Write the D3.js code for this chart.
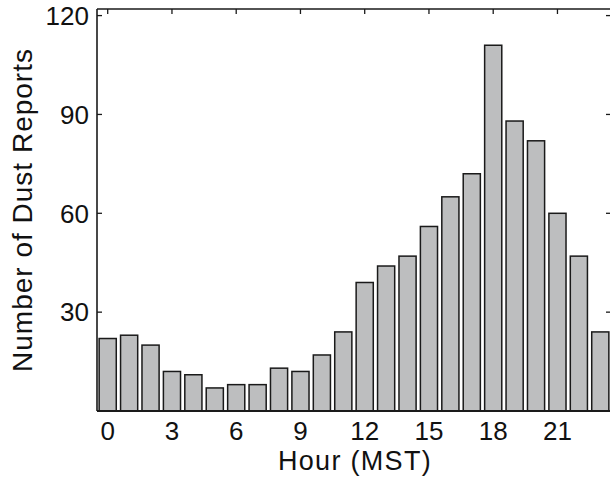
<!DOCTYPE html>
<html><head><meta charset="utf-8">
<script src="https://cdn.jsdelivr.net/npm/d3@7"></script>
<style>body{margin:0;background:#fff}svg{display:block}text{font-family:"Liberation Sans",Arial,sans-serif;fill:#111}</style>
</head><body>
<script>
const hours = d3.range(0, 24);
const reports = [22,23,20,12,11,7,8,8,13,12,17,24,39,44,47,56,65,72,111,88,82,60,47,24];
const xTicks = [0,3,6,9,12,15,18,21];
const yTicks = [30,60,90,120];

const W = 610, H = 478;
const svg = d3.select("body").append("svg").attr("width", W).attr("height", H);
const x = d3.scaleLinear().domain([-0.5, 23.5]).range([97, 611]);
const y = d3.scaleLinear().domain([0, 122]).range([411, 9]);
const bw = 0.8;

// bars
svg.append("g").selectAll("rect").data(hours).join("rect")
  .attr("x", d => x(d - bw/2))
  .attr("width", x(bw) - x(0))
  .attr("y", (d,i) => y(reports[i]))
  .attr("height", (d,i) => y(0) - y(reports[i]))
  .attr("fill", "#bdbebf").attr("stroke", "#1a1a1a").attr("stroke-width", 1.5);

// axes box lines
const ax = svg.append("g").attr("stroke", "#1a1a1a").attr("fill", "none");
ax.append("line").attr("x1", x(-0.5)).attr("x2", x(23.5)).attr("y1", y(0)).attr("y2", y(0)).attr("stroke-width", 2);
ax.append("line").attr("x1", x(-0.5)).attr("x2", x(-0.5)).attr("y1", y(0)).attr("y2", y(122)).attr("stroke-width", 1.6);
ax.append("line").attr("x1", x(-0.5)).attr("x2", x(23.5)).attr("y1", y(122)).attr("y2", y(122)).attr("stroke-width", 1.6);
ax.append("line").attr("x1", x(23.5)).attr("x2", x(23.5)).attr("y1", y(0)).attr("y2", y(122)).attr("stroke-width", 1.6);

// top ticks (inward)
ax.selectAll(".tt").data(xTicks).join("line")
  .attr("x1", d => x(d)).attr("x2", d => x(d)).attr("y1", y(122)).attr("y2", y(122) + 5).attr("stroke-width", 1.3);
// left ticks
ax.selectAll(".lt").data(yTicks).join("line")
  .attr("x1", x(-0.5)).attr("x2", x(-0.5) + 5).attr("y1", d => y(d)).attr("y2", d => y(d)).attr("stroke-width", 1.3);
// right ticks
ax.selectAll(".rt").data(yTicks).join("line")
  .attr("x1", x(23.5) - 5).attr("x2", x(23.5)).attr("y1", d => y(d)).attr("y2", d => y(d)).attr("stroke-width", 1.3);

// labels
svg.append("g").selectAll("text").data(xTicks).join("text")
  .attr("x", d => x(d)).attr("y", 440).attr("text-anchor", "middle")
  .attr("font-size", 26).text(d => d);
svg.append("g").selectAll("text").data(yTicks).join("text")
  .attr("x", 89).attr("y", d => y(d) + 9.3).attr("text-anchor", "end")
  .attr("font-size", 26).text(d => d);

svg.append("text").attr("x", 355).attr("y", 470).attr("text-anchor", "middle")
  .attr("font-size", 27).attr("letter-spacing", 1.3).text("Hour (MST)");
svg.append("text").attr("transform", "translate(32,210) rotate(-90)").attr("text-anchor", "middle")
  .attr("font-size", 28).attr("letter-spacing", 1).text("Number of Dust Reports");
</script>
</body></html>
